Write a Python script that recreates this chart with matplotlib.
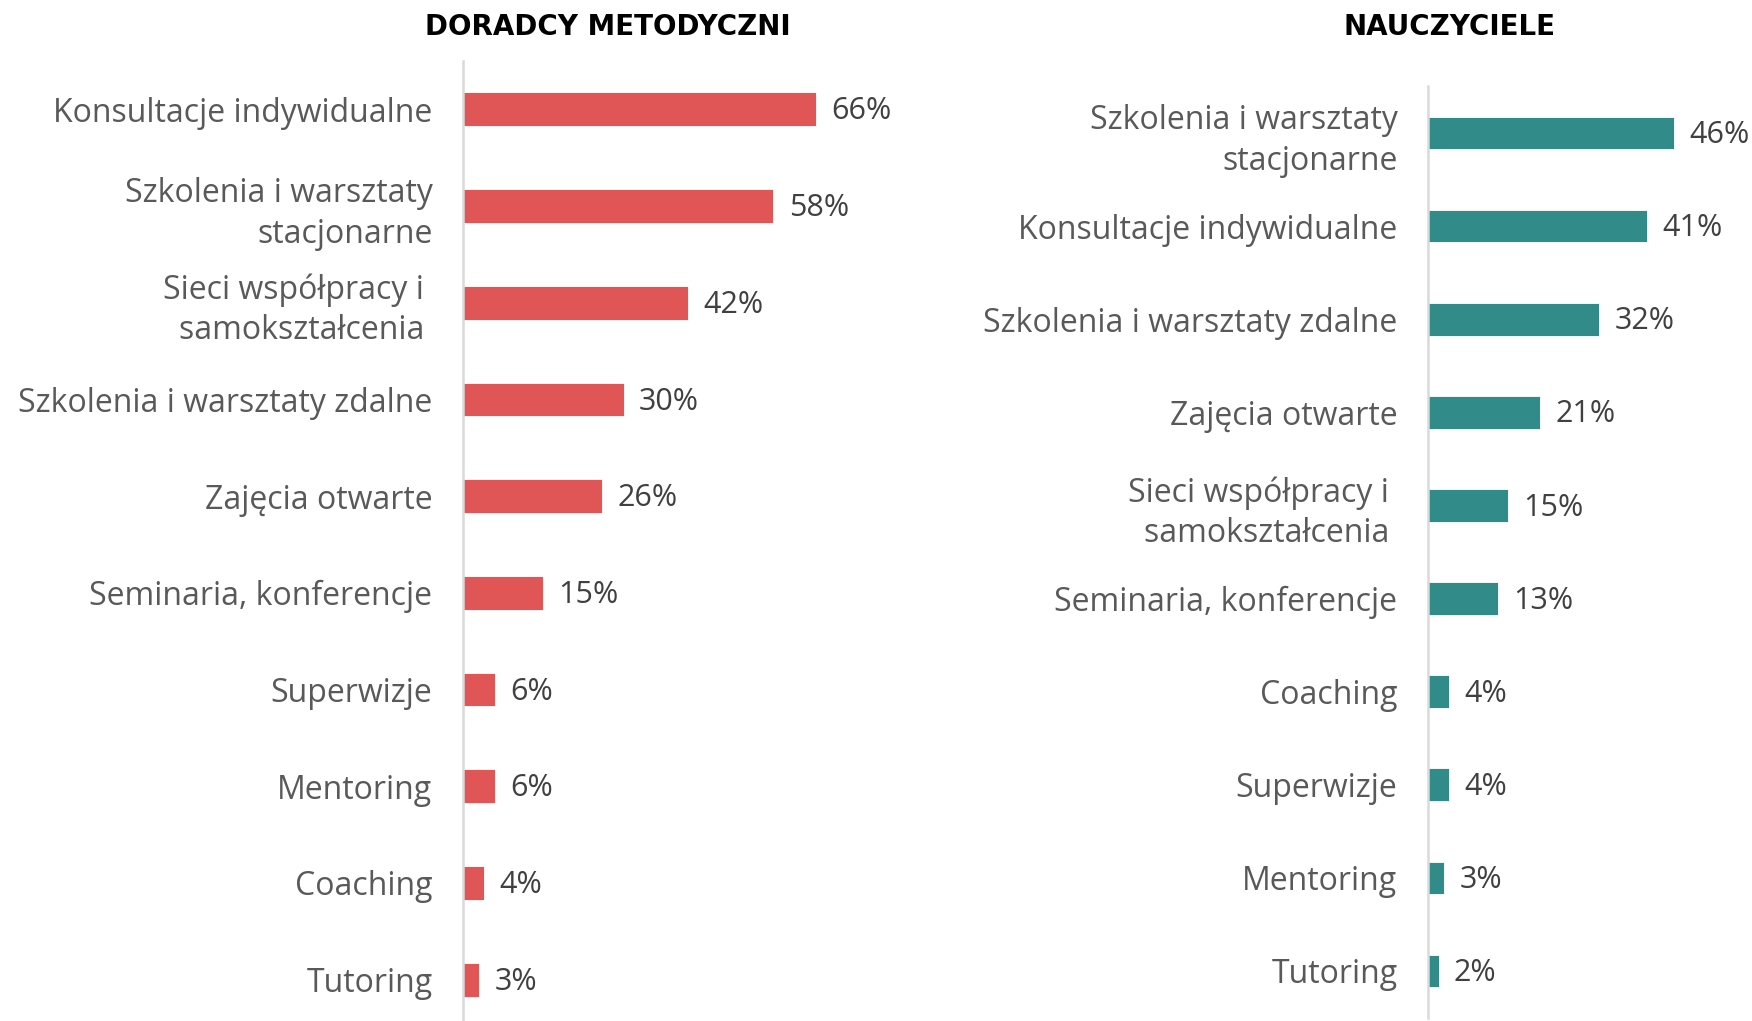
import numpy as np
import matplotlib
matplotlib.use("Agg")
import matplotlib.pyplot as plt

# data (top to bottom)
doradcy_labels = ["Konsultacje indywidualne", "Szkolenia i warsztaty\nstacjonarne",
                  "Sieci współpracy i \nsamokształcenia ", "Szkolenia i warsztaty zdalne",
                  "Zajęcia otwarte", "Seminaria, konferencje", "Superwizje", "Mentoring",
                  "Coaching", "Tutoring"]
doradcy_values = [66, 58, 42, 30, 26, 15, 6, 6, 4, 3]

nauczyciele_labels = ["Szkolenia i warsztaty\nstacjonarne", "Konsultacje indywidualne",
                      "Szkolenia i warsztaty zdalne", "Zajęcia otwarte",
                      "Sieci współpracy i \nsamokształcenia ", "Seminaria, konferencje",
                      "Coaching", "Superwizje", "Mentoring", "Tutoring"]
nauczyciele_values = [46, 41, 32, 21, 15, 13, 4, 4, 3, 2]

titles = ["DORADCY METODYCZNI", "NAUCZYCIELE"]

W, H = 1752, 1021
fig = plt.figure(figsize=(W / 100, H / 100), dpi=100)

label_font = "Open Sans"
lab_col = "#595959"
val_col = "#404040"


def draw(ax, labels, values, color, xmax):
    y = np.arange(len(values))
    ax.barh(y, values, height=0.35, color=color, edgecolor="white", linewidth=0.6)
    ax.set_ylim(len(values) - 0.5, -0.5)
    ax.set_xlim(0, xmax)
    ax.set_yticks(y)
    ax.set_yticklabels(labels, fontsize=23, color=lab_col, family=label_font,
                       linespacing=1.3)
    ax.tick_params(axis="y", length=0, pad=22)
    ax.set_xticks([])
    for s in ["top", "right", "bottom"]:
        ax.spines[s].set_visible(False)
    ax.spines["left"].set_color("#D9D9D9")
    ax.spines["left"].set_linewidth(1.8)
    for yi, v in zip(y, values):
        ax.annotate(f"{v}%", (v, yi), xytext=(11, -1.5), textcoords="offset points",
                    va="center", ha="left", fontsize=22, color=val_col,
                    family=label_font)


px = 5.35  # pixels per percent
ax1 = fig.add_axes([463 / W, (H - 1028) / H, 75 * px / W, 967 / H])
draw(ax1, doradcy_labels, doradcy_values, "#E05656", 75)

ax2 = fig.add_axes([1428 / W, (H - 1017.5) / H, 60 * px / W, 931 / H])
draw(ax2, nauczyciele_labels, nauczyciele_values, "#318B89", 60)

for t, xc in zip(titles, [608, 1449]):
    fig.text(xc / W, 1 - 27 / H, t, ha="center", va="center", fontsize=20,
             fontweight="bold", color="black", family="DejaVu Sans")

fig.savefig("out.png", dpi=100)
